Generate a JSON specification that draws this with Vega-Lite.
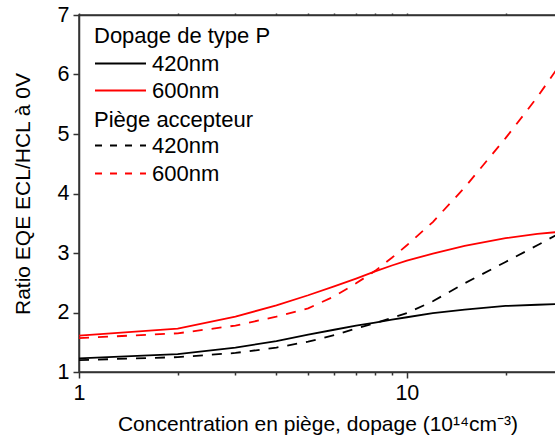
{
  "$schema": "https://vega.github.io/schema/vega-lite/v6.json",
  "width": 477,
  "height": 357,
  "autosize": "none",
  "padding": {"left": 79, "top": 15, "right": 0, "bottom": 67},
  "background": "white",
  "config": {
    "view": {"stroke": "#333", "strokeWidth": 1.5},
    "font": "Liberation Sans",
    "axis": {"domainColor": "#333", "domainWidth": 1.5, "tickColor": "#333", "tickWidth": 1.5, "labelColor": "black", "titleColor": "black", "labelFont": "Liberation Sans", "titleFont": "Liberation Sans", "titleFontWeight": "normal", "grid": false},
    "legend": {"titleFont": "Liberation Sans", "labelFont": "Liberation Sans", "titleFontWeight": "normal", "titleColor": "black", "labelColor": "black", "titleLimit": 400, "labelLimit": 300}
  },
  "data": {"values": [
    {"c": 1, "r": 1.23, "type": "P", "wl": "420nm"},
    {"c": 2, "r": 1.30, "type": "P", "wl": "420nm"},
    {"c": 3, "r": 1.41, "type": "P", "wl": "420nm"},
    {"c": 4, "r": 1.52, "type": "P", "wl": "420nm"},
    {"c": 5, "r": 1.63, "type": "P", "wl": "420nm"},
    {"c": 6, "r": 1.71, "type": "P", "wl": "420nm"},
    {"c": 7, "r": 1.78, "type": "P", "wl": "420nm"},
    {"c": 8, "r": 1.83, "type": "P", "wl": "420nm"},
    {"c": 9, "r": 1.88, "type": "P", "wl": "420nm"},
    {"c": 10, "r": 1.92, "type": "P", "wl": "420nm"},
    {"c": 12, "r": 1.99, "type": "P", "wl": "420nm"},
    {"c": 15, "r": 2.05, "type": "P", "wl": "420nm"},
    {"c": 20, "r": 2.11, "type": "P", "wl": "420nm"},
    {"c": 25, "r": 2.13, "type": "P", "wl": "420nm"},
    {"c": 28.5, "r": 2.14, "type": "P", "wl": "420nm"},
    {"c": 1, "r": 1.61, "type": "P", "wl": "600nm"},
    {"c": 2, "r": 1.73, "type": "P", "wl": "600nm"},
    {"c": 3, "r": 1.93, "type": "P", "wl": "600nm"},
    {"c": 4, "r": 2.12, "type": "P", "wl": "600nm"},
    {"c": 5, "r": 2.29, "type": "P", "wl": "600nm"},
    {"c": 6, "r": 2.44, "type": "P", "wl": "600nm"},
    {"c": 7, "r": 2.57, "type": "P", "wl": "600nm"},
    {"c": 8, "r": 2.69, "type": "P", "wl": "600nm"},
    {"c": 9, "r": 2.79, "type": "P", "wl": "600nm"},
    {"c": 10, "r": 2.87, "type": "P", "wl": "600nm"},
    {"c": 12, "r": 2.99, "type": "P", "wl": "600nm"},
    {"c": 15, "r": 3.12, "type": "P", "wl": "600nm"},
    {"c": 20, "r": 3.25, "type": "P", "wl": "600nm"},
    {"c": 25, "r": 3.32, "type": "P", "wl": "600nm"},
    {"c": 28.5, "r": 3.35, "type": "P", "wl": "600nm"},
    {"c": 1, "r": 1.20, "type": "A", "wl": "420nm"},
    {"c": 2, "r": 1.25, "type": "A", "wl": "420nm"},
    {"c": 3, "r": 1.32, "type": "A", "wl": "420nm"},
    {"c": 4, "r": 1.41, "type": "A", "wl": "420nm"},
    {"c": 5, "r": 1.51, "type": "A", "wl": "420nm"},
    {"c": 6, "r": 1.62, "type": "A", "wl": "420nm"},
    {"c": 7, "r": 1.73, "type": "A", "wl": "420nm"},
    {"c": 8, "r": 1.82, "type": "A", "wl": "420nm"},
    {"c": 9, "r": 1.91, "type": "A", "wl": "420nm"},
    {"c": 10, "r": 1.99, "type": "A", "wl": "420nm"},
    {"c": 12, "r": 2.19, "type": "A", "wl": "420nm"},
    {"c": 15, "r": 2.49, "type": "A", "wl": "420nm"},
    {"c": 20, "r": 2.85, "type": "A", "wl": "420nm"},
    {"c": 25, "r": 3.13, "type": "A", "wl": "420nm"},
    {"c": 28.5, "r": 3.30, "type": "A", "wl": "420nm"},
    {"c": 1, "r": 1.57, "type": "A", "wl": "600nm"},
    {"c": 2, "r": 1.65, "type": "A", "wl": "600nm"},
    {"c": 3, "r": 1.78, "type": "A", "wl": "600nm"},
    {"c": 4, "r": 1.93, "type": "A", "wl": "600nm"},
    {"c": 5, "r": 2.07, "type": "A", "wl": "600nm"},
    {"c": 6, "r": 2.27, "type": "A", "wl": "600nm"},
    {"c": 7, "r": 2.49, "type": "A", "wl": "600nm"},
    {"c": 8, "r": 2.70, "type": "A", "wl": "600nm"},
    {"c": 9, "r": 2.92, "type": "A", "wl": "600nm"},
    {"c": 10, "r": 3.13, "type": "A", "wl": "600nm"},
    {"c": 12, "r": 3.52, "type": "A", "wl": "600nm"},
    {"c": 15, "r": 4.10, "type": "A", "wl": "600nm"},
    {"c": 20, "r": 4.93, "type": "A", "wl": "600nm"},
    {"c": 25, "r": 5.62, "type": "A", "wl": "600nm"},
    {"c": 28.5, "r": 6.07, "type": "A", "wl": "600nm"}
  ]},
  "resolve": {"axis": {"x": "independent"}, "scale": {"color": "independent", "stroke": "independent"}, "legend": {"color": "independent", "stroke": "independent"}},
  "layer": [
    {
      "transform": [{"filter": "datum.type == 'P'"}],
      "mark": {"type": "line", "strokeWidth": 1.8, "clip": true},
      "encoding": {
        "x": {"field": "c", "type": "quantitative",
          "scale": {"type": "log", "domain": [1, 28.5], "nice": false},
          "axis": {"orient": "bottom", "values": [1, 2, 3, 4, 5, 6, 7, 8, 9, 10, 20],
            "labelExpr": "datum.value == 1 || datum.value == 10 ? datum.value : ''",
            "tickSize": {"condition": {"test": "datum.value == 1 || datum.value == 10", "value": 6}, "value": 3},
            "labelFontSize": 21.5, "labelPadding": 4, "labelFlush": false,
            "title": "Concentration en piège, dopage (10¹⁴cm⁻³)", "titleFontSize": 21, "titlePadding": 10}},
        "y": {"field": "r", "type": "quantitative",
          "scale": {"domain": [1, 7], "nice": false, "zero": false},
          "axis": {"values": [1, 1.5, 2, 2.5, 3, 3.5, 4, 4.5, 5, 5.5, 6, 6.5, 7],
            "labelExpr": "datum.value % 1 == 0 ? datum.value : ''",
            "tickSize": {"condition": {"test": "datum.value % 1 == 0", "value": 6}, "value": 3},
            "labelFontSize": 21.5, "labelPadding": 4, "labelFlush": false,
            "title": "Ratio EQE ECL/HCL à 0V", "titleFontSize": 21, "titlePadding": 24}},
        "color": {"field": "wl", "type": "nominal",
          "scale": {"range": ["#000000", "#ff0000"]},
          "legend": {"title": "Dopage de type P", "orient": "none", "legendX": 15, "legendY": 11,
            "symbolType": "stroke", "symbolSize": 2601, "symbolStrokeWidth": 1.8,
            "titleFontSize": 22, "labelFontSize": 22, "titlePadding": 3, "clipHeight": 25, "rowPadding": 2,
            "labelOffset": 5, "padding": 0, "titleAnchor": "start"}}
      }
    },
    {
      "transform": [{"filter": "datum.type == 'A'"}],
      "mark": {"type": "line", "strokeWidth": 1.8, "strokeDash": [10, 9], "clip": true},
      "encoding": {
        "x": {"field": "c", "type": "quantitative",
          "axis": {"orient": "top", "values": [1, 2, 3, 4, 5, 6, 7, 8, 9, 10, 20], "labels": false, "title": null, "tickSize": 2}},
        "y": {"field": "r", "type": "quantitative"},
        "stroke": {"field": "wl", "type": "nominal",
          "scale": {"range": ["#000000", "#ff0000"]},
          "legend": {"title": "Piège accepteur", "orient": "none", "legendX": 15, "legendY": 95,
            "symbolType": "stroke", "symbolSize": 2601, "symbolStrokeWidth": 1.8, "symbolDash": [7, 8],
            "titleFontSize": 22, "labelFontSize": 22, "titlePadding": 1, "clipHeight": 25, "rowPadding": 3,
            "labelOffset": 5, "padding": 0, "titleAnchor": "start"}}
      }
    }
  ]
}
